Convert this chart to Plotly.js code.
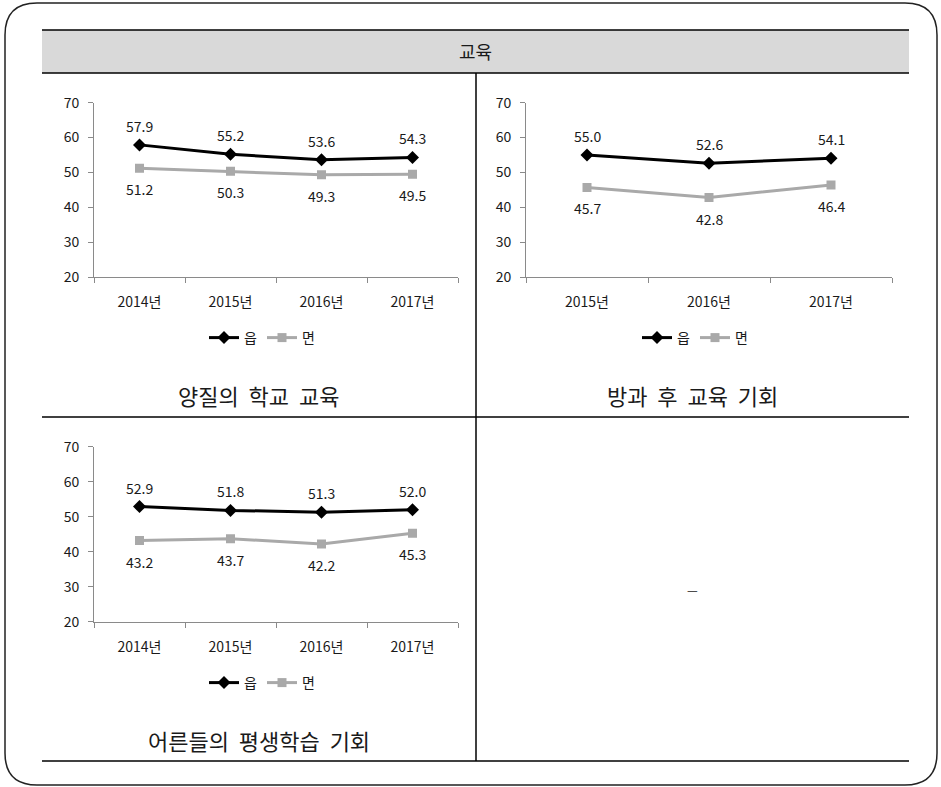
<!DOCTYPE html>
<html>
<head>
<meta charset="utf-8">
<script src="https://cdn.plot.ly/plotly-3.0.1.min.js"></script>
<style>html,body{margin:0;padding:0;background:#fff;}#chart{width:941px;height:787px;}</style>
</head>
<body>
<div id="chart"></div>
<script>
// ---- data ----
const header = "교육";
const seriesNames = ["읍", "면"];
const years4 = ["2014년", "2015년", "2016년", "2017년"];
const years3 = ["2015년", "2016년", "2017년"];
const quality_eup = [57.9, 55.2, 53.6, 54.3];
const quality_myeon = [51.2, 50.3, 49.3, 49.5];
const afterschool_eup = [55.0, 52.6, 54.1];
const afterschool_myeon = [45.7, 42.8, 46.4];
const adult_eup = [52.9, 51.8, 51.3, 52.0];
const adult_myeon = [43.2, 43.7, 42.2, 45.3];
const titles = ["양질의\u00a0\u00a0학교\u00a0\u00a0교육", "방과\u00a0\u00a0후\u00a0\u00a0교육\u00a0\u00a0기회", "어른들의\u00a0\u00a0평생학습\u00a0\u00a0기회"];
const yTicks = [20, 30, 40, 50, 60, 70];

// ---- helpers ----
const W = 941, H = 787;
const px = x => x / W;
const py = y => 1 - y / H;
const FONT = "Noto Sans CJK KR, Noto Sans, sans-serif";
const BLACK = "#000000", GRAY = "#a9a9a9", AXIS = "#8a8a8a", TXT = "#1a1a1a";

function pair(cats, eup, myeon, xa, ya, leg) {
  return [
    {x: cats, y: eup, name: seriesNames[0], type: "scatter", mode: "lines+markers",
     xaxis: xa, yaxis: ya, legend: leg,
     line: {color: BLACK, width: 3}, marker: {symbol: "diamond", size: 10, color: BLACK}},
    {x: cats, y: myeon, name: seriesNames[1], type: "scatter", mode: "lines+markers",
     xaxis: xa, yaxis: ya, legend: leg,
     line: {color: GRAY, width: 3}, marker: {symbol: "square", size: 9, color: GRAY}}
  ];
}

function labels(cats, vals, xa, ya, shift) {
  return cats.map((c, i) => ({
    x: c, y: vals[i], xref: xa, yref: ya, text: vals[i].toFixed(1), showarrow: false,
    yshift: shift, xanchor: "center", yanchor: "middle",
    font: {family: FONT, size: 14, color: TXT}
  }));
}

const data = [
  ...pair(years4, quality_eup, quality_myeon, "x", "y", "legend"),
  ...pair(years3, afterschool_eup, afterschool_myeon, "x2", "y2", "legend2"),
  ...pair(years4, adult_eup, adult_myeon, "x3", "y3", "legend3")
];

function xax(domain, n, anchor) {
  return {domain: domain, anchor: anchor, type: "category", range: [-0.5, n - 0.5], tickson: "boundaries",
    ticks: "outside", ticklen: 5, tickcolor: AXIS, showline: true, linecolor: AXIS, linewidth: 1,
    showgrid: false, zeroline: false, fixedrange: true, ticklabelstandoff: 12,
    tickfont: {family: FONT, size: 14, color: TXT}};
}
function yax(domain, anchor) {
  return {domain: domain, range: [20, 70], tickvals: yTicks, ticks: "outside", ticklen: 5,
    tickcolor: AXIS, showline: true, linecolor: AXIS, linewidth: 1, showgrid: false,
    zeroline: false, fixedrange: true, anchor: anchor, ticklabelstandoff: 6,
    tickfont: {family: FONT, size: 14, color: TXT}};
}
function leg(x, y) {
  return {x: px(x), y: py(y), xanchor: "center", yanchor: "middle", orientation: "h",
    font: {family: FONT, size: 14, color: TXT}, bgcolor: "rgba(0,0,0,0)", itemwidth: 30,
    tracegroupgap: 0, itemclick: false};
}

// rounded outer frame
const L = 5, R = 937, T = 3, B = 785, r = 32;
const framePath = [
  `M ${px(L + r)} ${py(T)}`, `L ${px(R - r)} ${py(T)}`, `Q ${px(R)} ${py(T)} ${px(R)} ${py(T + r)}`,
  `L ${px(R)} ${py(B - r)}`, `Q ${px(R)} ${py(B)} ${px(R - r)} ${py(B)}`,
  `L ${px(L + r)} ${py(B)}`, `Q ${px(L)} ${py(B)} ${px(L)} ${py(B - r)}`,
  `L ${px(L)} ${py(T + r)}`, `Q ${px(L)} ${py(T)} ${px(L + r)} ${py(T)}`, "Z"
].join(" ");

function hline(x0, x1, y, w) {
  return {type: "line", xref: "paper", yref: "paper", x0: px(x0), x1: px(x1), y0: py(y), y1: py(y),
    line: {color: BLACK, width: w || 1.5}};
}
function vline(x, y0, y1, w) {
  return {type: "line", xref: "paper", yref: "paper", x0: px(x), x1: px(x), y0: py(y0), y1: py(y1),
    line: {color: BLACK, width: w || 1.5}};
}

const shapes = [
  {type: "path", xref: "paper", yref: "paper", path: framePath, line: {color: "#222", width: 1.5}},
  {type: "rect", xref: "paper", yref: "paper", x0: px(42), x1: px(909), y0: py(73), y1: py(30),
   fillcolor: "#d9d9d9", line: {width: 0}, layer: "below"},
  hline(42, 909, 30), hline(42, 909, 73),
  vline(476, 73, 761),
  hline(42, 909, 417), hline(42, 909, 761)
];

function ann(text, x, y, size) {
  return {text: text, xref: "paper", yref: "paper", x: px(x), y: py(y), xanchor: "center",
    yanchor: "middle", showarrow: false, font: {family: FONT, size: size, color: TXT}};
}

const layout = {
  width: W, height: H, margin: {l: 0, r: 0, t: 0, b: 0},
  paper_bgcolor: "#fff", plot_bgcolor: "rgba(0,0,0,0)",
  xaxis: xax([px(94), px(458)], 4, "y"), yaxis: yax([py(277), py(102.7)], "x"),
  xaxis2: xax([px(526), px(892)], 3, "y2"), yaxis2: yax([py(277), py(102.7)], "x2"),
  xaxis3: xax([px(94), px(458)], 4, "y3"), yaxis3: yax([py(621.7), py(446.7)], "x3"),
  legend: leg(262, 338), legend2: leg(695, 338), legend3: leg(262, 683),
  shapes: shapes,
  annotations: [
    ann(header, 475, 51, 18),
    ann(titles[0], 258, 395, 22),
    ann(titles[1], 692, 395, 22),
    ann(titles[2], 259, 740, 22),
    ann("—", 692, 589, 12),
    ...labels(years4, quality_eup, "x", "y", 19),
    ...labels(years4, quality_myeon, "x", "y", -21),
    ...labels(years3, afterschool_eup, "x2", "y2", 19),
    ...labels(years3, afterschool_myeon, "x2", "y2", -21),
    ...labels(years4, adult_eup, "x3", "y3", 19),
    ...labels(years4, adult_myeon, "x3", "y3", -21)
  ]
};

Plotly.newPlot("chart", data, layout, {staticPlot: true, displayModeBar: false});
</script>
</body>
</html>
